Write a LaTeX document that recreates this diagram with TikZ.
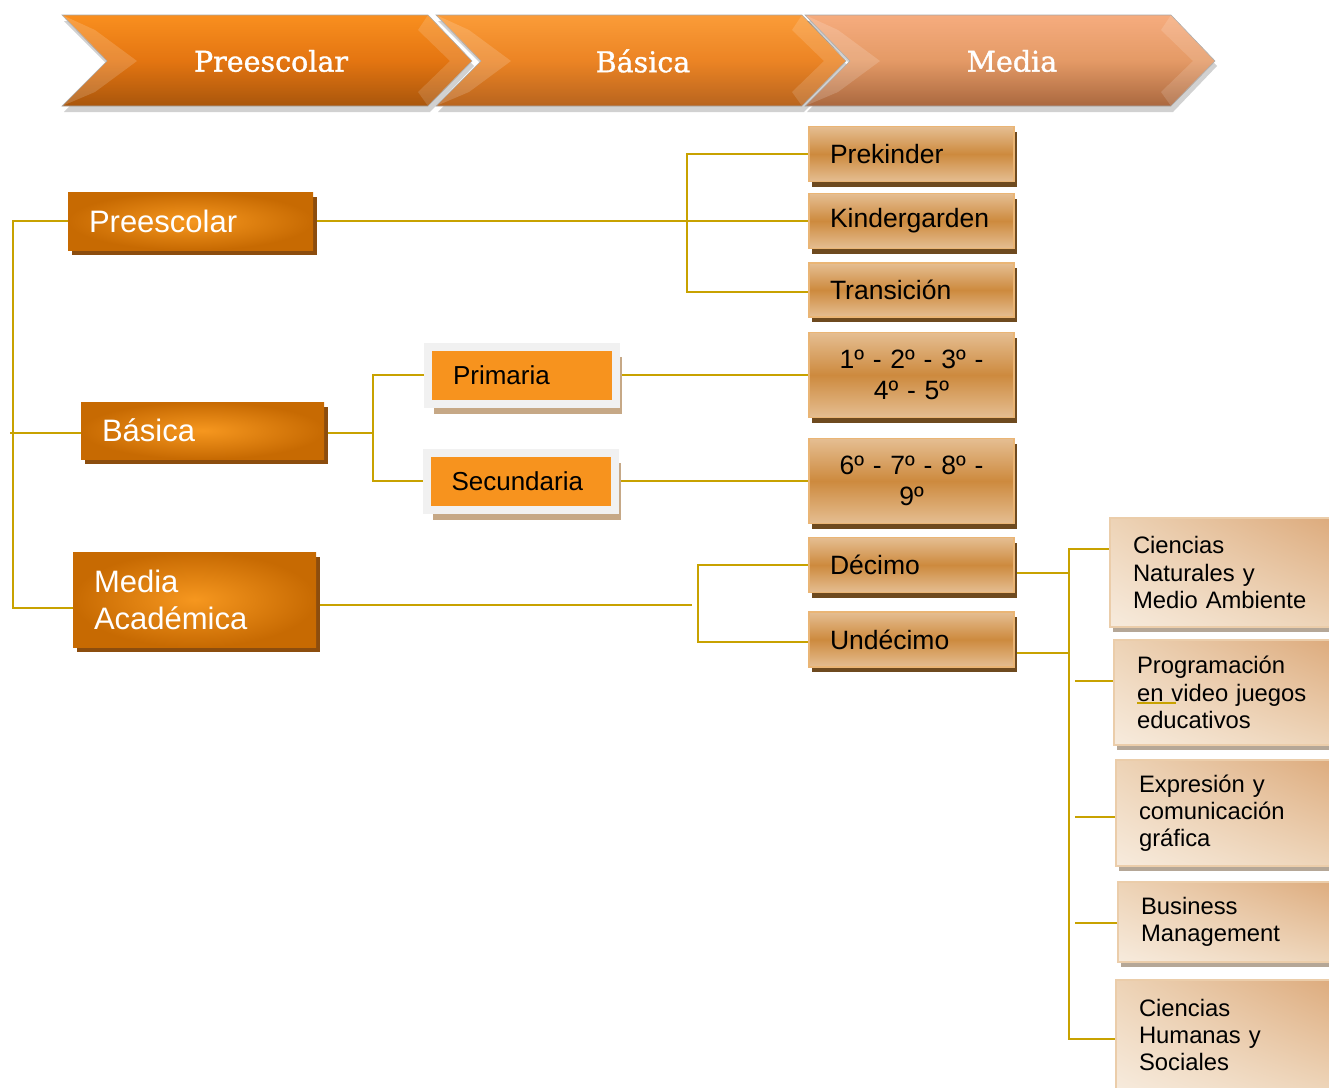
\documentclass[tikz,border=0pt]{standalone}
\usepackage{fontspec}
\setmainfont{Liberation Sans}
\newfontfamily\slabfont[FakeBold=1.2]{DejaVu Serif}
\usetikzlibrary{shadows,shadings}
\pgfdeclarelayer{bg}
\pgfsetlayers{bg,main}
\definecolor{conncol}{HTML}{C8A200}
\definecolor{oEdge}{HTML}{C76A02}
\definecolor{oCenter}{HTML}{F6971F}
\definecolor{oShadow}{HTML}{8C4D0E}
\definecolor{tTop}{HTML}{E5BE92}
\definecolor{tMid}{HTML}{CD8A3E}
\definecolor{tBorder}{HTML}{EAB575}
\definecolor{tShadow}{HTML}{6E4A1F}
\definecolor{pFill}{HTML}{F7931E}
\definecolor{pFrame}{HTML}{F1F1F1}
\definecolor{pShadow}{HTML}{C6A886}
\definecolor{cLight}{HTML}{F7EBDD}
\definecolor{cDark}{HTML}{DCA97A}
\definecolor{cMidc}{HTML}{EDD3B6}
\definecolor{cBorder}{HTML}{EBCDAA}
\definecolor{cShadow}{HTML}{B5A797}
\definecolor{chAtop}{HTML}{F98F1F}
\definecolor{chAmid}{HTML}{E47511}
\definecolor{chAbot}{HTML}{A9560C}
\definecolor{chBtop}{HTML}{FB9C38}
\definecolor{chBmid}{HTML}{EC8424}
\definecolor{chBbot}{HTML}{B8641E}
\definecolor{chCtop}{HTML}{F6AC7E}
\definecolor{chCmid}{HTML}{E49A66}
\definecolor{chCbot}{HTML}{AA683F}
\newcommand\mychev[4]{%
  \fill[black,opacity=0.18] (#1+2,21) -- (#1+368,21) -- (#1+412,66) -- (#1+368,112) -- (#1+2,112) -- (#1+47,66) -- cycle;
  \shade[top color=#2, bottom color=#4, middle color=#3, draw=black!35, line width=0.6pt]
    (#1,15) -- (#1+366,15) -- (#1+410,61) -- (#1+366,106) -- (#1,106) -- (#1+45,61) -- cycle;
  \fill[white,opacity=0.16] (#1,15) -- (#1+45,61) -- (#1,106) -- (#1+33,92) -- (#1+75,61) -- (#1+33,30) -- cycle;
  \fill[white,opacity=0.14] (#1+366,15) -- (#1+410,61) -- (#1+366,106) -- (#1+356,92) -- (#1+388,61) -- (#1+356,30) -- cycle;
}
\begin{document}
\begin{tikzpicture}[x=1pt,y=-1pt,
  conn/.style={draw=conncol,line width=2pt},
  lbox/.style={shading=radial, inner color=oCenter, outer color=oEdge, text=white,
    general shadow={fill=oShadow, shadow xshift=4pt, shadow yshift=-5pt},
    inner xsep=21pt, inner ysep=0pt, align=left, font=\fontsize{31}{37}\selectfont},
  pbox/.style={fill=pFill, draw=pFrame, line width=8pt,
    general shadow={fill=pShadow, shadow xshift=6pt, shadow yshift=-10pt},
    minimum width=188pt, minimum height=57pt, text width=138pt, inner xsep=24pt, inner ysep=0pt,
    align=left, font=\fontsize{26}{30}\selectfont},
  tbox/.style={top color=tTop, bottom color=tTop, middle color=tMid, draw=tBorder, line width=1.6pt,
    general shadow={fill=tShadow, shadow xshift=3pt, shadow yshift=-5pt},
    minimum width=205pt, text width=163pt, inner xsep=21pt, inner ysep=0pt,
    font=\fontsize{26.5}{31}\selectfont},
  cbox/.style={shade, lower left=cLight, upper right=cDark, lower right=cMidc, upper left=cMidc,
    draw=cBorder, line width=1.2pt,
    general shadow={fill=cShadow, shadow xshift=3pt, shadow yshift=-5pt},
    minimum width=230pt, text width=184pt, inner xsep=23pt, inner ysep=0pt, align=left,
    font=\fontsize{23.8}{27.2}\selectfont},
  chtext/.style={text=white, font=\slabfont\fontsize{28.5}{32}\selectfont}
]
\useasboundingbox (0,0) rectangle (1329,1087);

% ---- top chevrons ----
\mychev{62}{chAtop}{chAmid}{chAbot}
\mychev{436}{chBtop}{chBmid}{chBbot}
\mychev{805}{chCtop}{chCmid}{chCbot}
\node[chtext] (h1) at (271,61) {Preescolar};
\node[chtext] (h2) at (643,61) {Básica};
\node[chtext] (h3) at (1012,61) {Media};

% ---- nodes ----
\node[lbox, minimum width=245pt, minimum height=58pt, text width=203pt] (L1) at (190.5,221) {Preescolar};
\node[lbox, minimum width=243pt, minimum height=57pt, text width=201pt] (L2) at (202.5,430.5) {Básica};
\node[lbox, minimum width=243pt, minimum height=95pt, text width=201pt] (L3) at (194.5,599.5) {Media\\Académica};

\node[pbox] (Pri) at (522,375) {Primaria};
\node[pbox] (Sec) at (520.5,481) {Secundaria};

\node[tbox, minimum height=55pt, align=left] (Pk) at (911.5,154) {Prekinder};
\node[tbox, minimum height=55pt, align=left] (Kg) at (911.5,221) {Kindergarden};
\node[tbox, minimum height=54pt, align=left] (Tr) at (911.5,290) {Transición};
\node[tbox, minimum height=85pt, align=center] (N1) at (911.5,375) {1º - 2º - 3º -\\4º - 5º};
\node[tbox, minimum height=85pt, align=center] (N2) at (911.5,481) {6º - 7º - 8º -\\9º};
\node[tbox, minimum height=55pt, align=left] (De) at (911.5,565) {Décimo};
\node[tbox, minimum height=55pt, align=left] (Un) at (911.5,639.5) {Undécimo};

\node[cbox, minimum height=109pt] (C1) at (1225,572.5) {Ciencias\\Naturales y\\Medio Ambiente};
\node[cbox, minimum height=105pt] (C2) at (1229,692.5) {Programación\\en video juegos\\educativos};
\node[cbox, minimum height=106pt] (C3) at (1231,813) {Expresión y\\comunicación\\gráfica};
\node[cbox, minimum height=80pt] (C4) at (1233,922) {Business\\Management};
\node[cbox, minimum height=110pt] (C5) at (1231,1035) {Ciencias\\Humanas y\\Sociales};

% ---- connector helper coordinates ----
\coordinate (tk) at (13,0);
\coordinate (bP) at (687,0);
\coordinate (bB) at (373,0);
\coordinate (bM) at (698,0);
\coordinate (rt) at (1069,0);
\coordinate (lt) at (10,433);
\coordinate (mEnd) at (692,605);
\coordinate (m3) at ([yshift=-8.5pt]L3.west);
\coordinate (b2w) at ([yshift=-2.5pt]L2.west);
\coordinate (b2e) at ([yshift=-2.5pt]L2.east);
\coordinate (trIn) at ([yshift=-2pt]Tr.west);
\coordinate (unIn) at ([yshift=-2.5pt]Un.west);
\coordinate (deOut) at ([yshift=-8pt]De.east);
\coordinate (unOut) at ([yshift=-13.5pt]Un.east);
\coordinate (c1In) at ([yshift=23.5pt]C1.west);
\coordinate (c2In) at ([yshift=11.5pt]C2.west);
\coordinate (c3In) at ([yshift=-4pt]C3.west);
\coordinate (c4In) at ([yshift=-1pt]C4.west);
\coordinate (c5In) at ([yshift=-4pt]C5.west);

% ---- connectors (background layer) ----
\begin{pgfonlayer}{bg}
\draw[conn] (L1.west) -| (tk |- m3) -- (m3);
\draw[conn] (lt) -- (b2w);
\draw[conn] (L1.east) -- (Kg.west);
\draw[conn] (Pk.west) -| (bP |- trIn) -- (trIn);
\draw[conn] (b2e) -- (b2e -| bB);
\draw[conn] (Pri.west) -| (bB |- Sec.west) -- (Sec.west);
\draw[conn] (Pri.east) -- (N1.west);
\draw[conn] (Sec.east) -- (N2.west);
\draw[conn] ([yshift=-5.5pt]L3.east) -- (mEnd);
\draw[conn] (De.west) -| (bM |- unIn) -- (unIn);
\draw[conn] (deOut) -- (deOut -| rt);
\draw[conn] (unOut) -- (unOut -| rt);
\draw[conn] (c1In) -- (c1In -| rt) -- (rt |- c5In) -- (c5In);
\draw[conn] (c2In) -- ([xshift=-38pt]c2In);
\draw[conn] (c3In) -- ([xshift=-40pt]c3In);
\draw[conn] (c4In) -- ([xshift=-42pt]c4In);
\end{pgfonlayer}
\draw[conn, line width=1.4pt] (1137,703) -- (1176,703);
\end{tikzpicture}
\end{document}
